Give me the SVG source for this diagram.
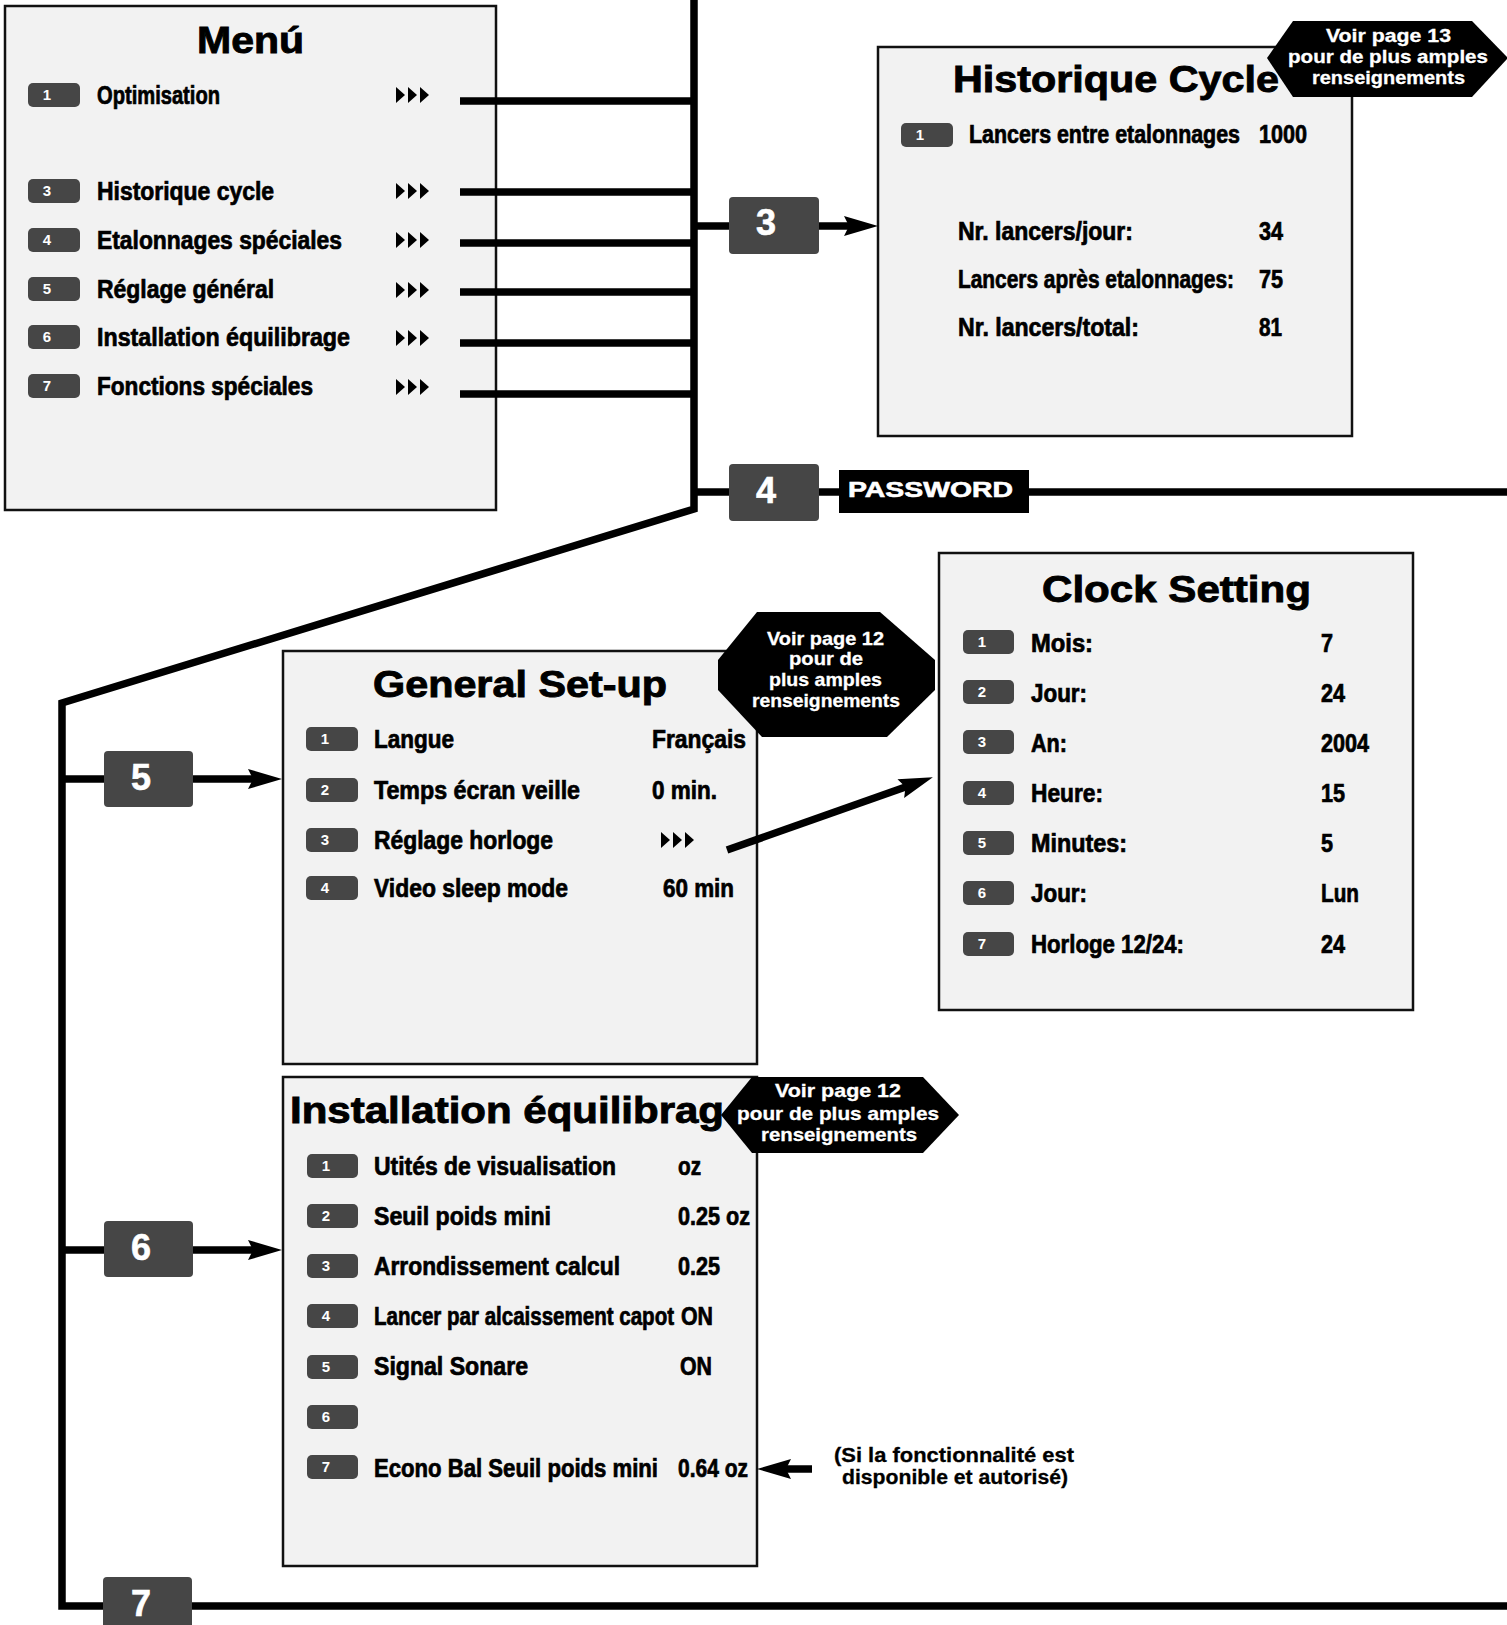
<svg xmlns="http://www.w3.org/2000/svg" xmlns:xlink="http://www.w3.org/1999/xlink" width="1507" height="1625" viewBox="0 0 1507 1625">
<style>
.box{fill:#f2f2f2;stroke:#111;stroke-width:2.5}
.b{fill:#464646}
.bn{font-family:"Liberation Sans",Arial,sans-serif;font-weight:bold;font-size:15px;fill:#fff;text-anchor:middle}
.bigt{font-family:"Liberation Sans",Arial,sans-serif;font-weight:bold;font-size:36px;fill:#fff;text-anchor:middle;stroke:#fff;stroke-width:0.6}
.t{font-family:"Liberation Sans",Arial,sans-serif;font-weight:bold;font-size:37px;fill:#000;stroke:#000;stroke-width:0.9}
.r{font-family:"Liberation Sans",Arial,sans-serif;font-weight:bold;font-size:25px;fill:#000;stroke:#000;stroke-width:0.7}
.ht{font-family:"Liberation Sans",Arial,sans-serif;font-weight:bold;font-size:18.5px;fill:#fff;stroke:#fff;stroke-width:0.3}
.nt{font-family:"Liberation Sans",Arial,sans-serif;font-weight:bold;font-size:19.5px;fill:#000;stroke:#000;stroke-width:0.3}
.pw{font-family:"Liberation Sans",Arial,sans-serif;font-weight:bold;font-size:22px;fill:#fff;stroke:#fff;stroke-width:0.6}
.c{fill:none;stroke:#000;stroke-width:7.5;stroke-linejoin:miter}
.ca{fill:none;stroke:#000;stroke-width:7.5;marker-end:url(#ah)}
</style>
<defs>
<marker id="ah" markerUnits="userSpaceOnUse" markerWidth="34" markerHeight="20" refX="14" refY="10" orient="auto" overflow="visible">
<path d="M0,0 L34,10 L0,20 L5,10 z" fill="#000"/>
</marker>
<path id="tri" d="M0,-8 L9,0 L0,8 z M12,-8 L21,0 L12,8 z M24,-8 L33,0 L24,8 z" fill="#000"/>
</defs>
<rect x="0" y="0" width="1507" height="1625" fill="#fff"/>

<g id="menu">
<rect class="box" x="5" y="6" width="491" height="504"/>
<text class="t" x="197" y="53" textLength="107" lengthAdjust="spacingAndGlyphs">Menú</text>
<rect class="b" x="28" y="83" width="52" height="24" rx="5"/><text class="bn" x="47" y="100">1</text>
<text class="r" transform="translate(97,104) scale(0.75,1)" textLength="164" lengthAdjust="spacingAndGlyphs">Optimisation</text>
<use xlink:href="#tri" x="396" y="95"/>
<rect class="b" x="28" y="179" width="52" height="24" rx="5"/><text class="bn" x="47" y="196">3</text>
<text class="r" transform="translate(97,200) scale(0.75,1)" textLength="236" lengthAdjust="spacingAndGlyphs">Historique cycle</text>
<use xlink:href="#tri" x="396" y="191"/>
<rect class="b" x="28" y="228" width="52" height="24" rx="5"/><text class="bn" x="47" y="245">4</text>
<text class="r" transform="translate(97,249) scale(0.75,1)" textLength="326.7" lengthAdjust="spacingAndGlyphs">Etalonnages spéciales</text>
<use xlink:href="#tri" x="396" y="240"/>
<rect class="b" x="28" y="277" width="52" height="24" rx="5"/><text class="bn" x="47" y="294">5</text>
<text class="r" transform="translate(97,298) scale(0.75,1)" textLength="236" lengthAdjust="spacingAndGlyphs">Réglage général</text>
<use xlink:href="#tri" x="396" y="290"/>
<rect class="b" x="28" y="325" width="52" height="24" rx="5"/><text class="bn" x="47" y="342">6</text>
<text class="r" transform="translate(97,346) scale(0.75,1)" textLength="337.3" lengthAdjust="spacingAndGlyphs">Installation équilibrage</text>
<use xlink:href="#tri" x="396" y="338"/>
<rect class="b" x="28" y="374" width="52" height="24" rx="5"/><text class="bn" x="47" y="391">7</text>
<text class="r" transform="translate(97,395) scale(0.75,1)" textLength="288" lengthAdjust="spacingAndGlyphs">Fonctions spéciales</text>
<use xlink:href="#tri" x="396" y="387"/>
</g>

<g id="historique">
<rect class="box" x="878" y="47" width="474" height="389"/>
<text class="t" x="953" y="92" textLength="326" lengthAdjust="spacingAndGlyphs">Historique Cycle</text>
<rect class="b" x="901" y="123" width="52" height="24" rx="5"/><text class="bn" x="920" y="140">1</text>
<text class="r" transform="translate(969,143) scale(0.75,1)" textLength="361.3" lengthAdjust="spacingAndGlyphs">Lancers entre etalonnages</text>
<text class="r" transform="translate(1259,143) scale(0.75,1)" textLength="64" lengthAdjust="spacingAndGlyphs">1000</text>
<text class="r" transform="translate(958,240) scale(0.75,1)" textLength="233.3" lengthAdjust="spacingAndGlyphs">Nr. lancers/jour:</text>
<text class="r" transform="translate(1259,240) scale(0.75,1)" textLength="32" lengthAdjust="spacingAndGlyphs">34</text>
<text class="r" transform="translate(958,288) scale(0.75,1)" textLength="368" lengthAdjust="spacingAndGlyphs">Lancers après etalonnages:</text>
<text class="r" transform="translate(1259,288) scale(0.75,1)" textLength="32" lengthAdjust="spacingAndGlyphs">75</text>
<text class="r" transform="translate(958,336) scale(0.75,1)" textLength="241.3" lengthAdjust="spacingAndGlyphs">Nr. lancers/total:</text>
<text class="r" transform="translate(1259,336) scale(0.75,1)" textLength="30.7" lengthAdjust="spacingAndGlyphs">81</text>
</g>

<g id="general-setup">
<rect class="box" x="283" y="651" width="474" height="413"/>
<text class="t" x="373" y="697" textLength="294" lengthAdjust="spacingAndGlyphs">General Set-up</text>
<rect class="b" x="306" y="727" width="52" height="24" rx="5"/><text class="bn" x="325" y="744">1</text>
<text class="r" transform="translate(374,748) scale(0.75,1)" textLength="106.7" lengthAdjust="spacingAndGlyphs">Langue</text>
<text class="r" transform="translate(652,748) scale(0.75,1)" textLength="125.3" lengthAdjust="spacingAndGlyphs">Français</text>
<rect class="b" x="306" y="778" width="52" height="24" rx="5"/><text class="bn" x="325" y="795">2</text>
<text class="r" transform="translate(374,799) scale(0.75,1)" textLength="274.7" lengthAdjust="spacingAndGlyphs">Temps écran veille</text>
<text class="r" transform="translate(652,799) scale(0.75,1)" textLength="86.7" lengthAdjust="spacingAndGlyphs">0 min.</text>
<rect class="b" x="306" y="828" width="52" height="24" rx="5"/><text class="bn" x="325" y="845">3</text>
<text class="r" transform="translate(374,849) scale(0.75,1)" textLength="238.7" lengthAdjust="spacingAndGlyphs">Réglage horloge</text>
<use xlink:href="#tri" x="661" y="840"/>
<rect class="b" x="306" y="876" width="52" height="24" rx="5"/><text class="bn" x="325" y="893">4</text>
<text class="r" transform="translate(374,897) scale(0.75,1)" textLength="258.7" lengthAdjust="spacingAndGlyphs">Video sleep mode</text>
<text class="r" transform="translate(663,897) scale(0.75,1)" textLength="94.7" lengthAdjust="spacingAndGlyphs">60 min</text>
</g>

<g id="clock-setting">
<rect class="box" x="939" y="553" width="474" height="457"/>
<text class="t" x="1042" y="602" textLength="269" lengthAdjust="spacingAndGlyphs">Clock Setting</text>
<rect class="b" x="963" y="630" width="51" height="24" rx="5"/><text class="bn" x="982" y="647">1</text>
<text class="r" transform="translate(1031,652) scale(0.75,1)" textLength="82.7" lengthAdjust="spacingAndGlyphs">Mois:</text>
<text class="r" transform="translate(1321,652) scale(0.75,1)" textLength="16" lengthAdjust="spacingAndGlyphs">7</text>
<rect class="b" x="963" y="680" width="51" height="24" rx="5"/><text class="bn" x="982" y="697">2</text>
<text class="r" transform="translate(1031,702) scale(0.75,1)" textLength="74.7" lengthAdjust="spacingAndGlyphs">Jour:</text>
<text class="r" transform="translate(1321,702) scale(0.75,1)" textLength="32" lengthAdjust="spacingAndGlyphs">24</text>
<rect class="b" x="963" y="730" width="51" height="24" rx="5"/><text class="bn" x="982" y="747">3</text>
<text class="r" transform="translate(1031,752) scale(0.75,1)" textLength="48" lengthAdjust="spacingAndGlyphs">An:</text>
<text class="r" transform="translate(1321,752) scale(0.75,1)" textLength="64" lengthAdjust="spacingAndGlyphs">2004</text>
<rect class="b" x="963" y="781" width="51" height="24" rx="5"/><text class="bn" x="982" y="798">4</text>
<text class="r" transform="translate(1031,802) scale(0.75,1)" textLength="96" lengthAdjust="spacingAndGlyphs">Heure:</text>
<text class="r" transform="translate(1321,802) scale(0.75,1)" textLength="32" lengthAdjust="spacingAndGlyphs">15</text>
<rect class="b" x="963" y="831" width="51" height="24" rx="5"/><text class="bn" x="982" y="848">5</text>
<text class="r" transform="translate(1031,852) scale(0.75,1)" textLength="128" lengthAdjust="spacingAndGlyphs">Minutes:</text>
<text class="r" transform="translate(1321,852) scale(0.75,1)" textLength="16" lengthAdjust="spacingAndGlyphs">5</text>
<rect class="b" x="963" y="881" width="51" height="24" rx="5"/><text class="bn" x="982" y="898">6</text>
<text class="r" transform="translate(1031,902) scale(0.75,1)" textLength="74.7" lengthAdjust="spacingAndGlyphs">Jour:</text>
<text class="r" transform="translate(1321,902) scale(0.75,1)" textLength="50.7" lengthAdjust="spacingAndGlyphs">Lun</text>
<rect class="b" x="963" y="932" width="51" height="24" rx="5"/><text class="bn" x="982" y="949">7</text>
<text class="r" transform="translate(1031,953) scale(0.75,1)" textLength="204" lengthAdjust="spacingAndGlyphs">Horloge 12/24:</text>
<text class="r" transform="translate(1321,953) scale(0.75,1)" textLength="32" lengthAdjust="spacingAndGlyphs">24</text>
</g>

<g id="installation">
<rect class="box" x="283" y="1077" width="474" height="489"/>
<text class="t" x="290" y="1123" textLength="434" lengthAdjust="spacingAndGlyphs">Installation équilibrag</text>
<rect class="b" x="307" y="1154" width="51" height="24" rx="5"/><text class="bn" x="326" y="1171">1</text>
<text class="r" transform="translate(374,1175) scale(0.75,1)" textLength="322.7" lengthAdjust="spacingAndGlyphs">Utités de visualisation</text>
<text class="r" transform="translate(678,1175) scale(0.75,1)" textLength="30.7" lengthAdjust="spacingAndGlyphs">oz</text>
<rect class="b" x="307" y="1204" width="51" height="24" rx="5"/><text class="bn" x="326" y="1221">2</text>
<text class="r" transform="translate(374,1225) scale(0.75,1)" textLength="236" lengthAdjust="spacingAndGlyphs">Seuil poids mini</text>
<text class="r" transform="translate(678,1225) scale(0.75,1)" textLength="96" lengthAdjust="spacingAndGlyphs">0.25 oz</text>
<rect class="b" x="307" y="1254" width="51" height="24" rx="5"/><text class="bn" x="326" y="1271">3</text>
<text class="r" transform="translate(374,1275) scale(0.75,1)" textLength="328" lengthAdjust="spacingAndGlyphs">Arrondissement calcul</text>
<text class="r" transform="translate(678,1275) scale(0.75,1)" textLength="56" lengthAdjust="spacingAndGlyphs">0.25</text>
<rect class="b" x="307" y="1304" width="51" height="24" rx="5"/><text class="bn" x="326" y="1321">4</text>
<text class="r" transform="translate(374,1325) scale(0.75,1)" textLength="400" lengthAdjust="spacingAndGlyphs">Lancer par alcaissement capot</text>
<text class="r" transform="translate(681,1325) scale(0.75,1)" textLength="42.7" lengthAdjust="spacingAndGlyphs">ON</text>
<rect class="b" x="307" y="1355" width="51" height="24" rx="5"/><text class="bn" x="326" y="1372">5</text>
<text class="r" transform="translate(374,1375) scale(0.75,1)" textLength="205.3" lengthAdjust="spacingAndGlyphs">Signal Sonare</text>
<text class="r" transform="translate(680,1375) scale(0.75,1)" textLength="42.7" lengthAdjust="spacingAndGlyphs">ON</text>
<rect class="b" x="307" y="1405" width="51" height="24" rx="5"/><text class="bn" x="326" y="1422">6</text>
<rect class="b" x="307" y="1455" width="51" height="24" rx="5"/><text class="bn" x="326" y="1472">7</text>
<text class="r" transform="translate(374,1477) scale(0.75,1)" textLength="378.7" lengthAdjust="spacingAndGlyphs">Econo Bal Seuil poids mini</text>
<text class="r" transform="translate(678,1477) scale(0.75,1)" textLength="93.3" lengthAdjust="spacingAndGlyphs">0.64 oz</text>
</g>

<g id="connectors">
<path class="c" d="M694,0 V509 L62,703 V1606 H1507"/>
<path class="c" d="M460,101 H694 M460,192 H694 M460,243 H694 M460,292 H694 M460,343 H694 M460,394 H694"/>
<path class="ca" d="M694,226 H858"/>
<path class="c" d="M694,492 H1507"/>
<path class="ca" d="M62,779 H262"/>
<path class="ca" d="M62,1250 H262"/>
<path class="ca" d="M727,850 L914,784"/>
<path class="ca" d="M812,1469 H777"/>
</g>

<g id="badge-3"><rect class="b" x="729" y="197" width="90" height="57" rx="4"/><text class="bigt" x="766" y="235">3</text></g>
<g id="badge-4"><rect class="b" x="729" y="464" width="90" height="57" rx="4"/><text class="bigt" x="766" y="503">4</text></g>
<g id="password"><rect x="839" y="470" width="190" height="43" fill="#000"/><text class="pw" x="848" y="497" textLength="165" lengthAdjust="spacingAndGlyphs">PASSWORD</text></g>
<g id="badge-5"><rect class="b" x="104" y="751" width="89" height="56" rx="4"/><text class="bigt" x="141" y="790">5</text></g>
<g id="badge-6"><rect class="b" x="104" y="1221" width="89" height="56" rx="4"/><text class="bigt" x="141" y="1260">6</text></g>
<g id="badge-7"><rect class="b" x="103" y="1577" width="89" height="60" rx="4"/><text class="bigt" x="141" y="1616">7</text></g>

<g id="callout-historique">
<polygon points="1267,58 1293,21 1472,21 1508,58 1472,97 1293,97" fill="#000"/>
<text class="ht" x="1326" y="42" textLength="125" lengthAdjust="spacingAndGlyphs">Voir page 13</text>
<text class="ht" x="1288" y="63" textLength="200" lengthAdjust="spacingAndGlyphs">pour de plus amples</text>
<text class="ht" x="1312" y="84" textLength="153" lengthAdjust="spacingAndGlyphs">renseignements</text>
</g>

<g id="callout-general">
<polygon points="757,612 880,612 935,660 935,690 887,737 762,737 718,690 718,660" fill="#000"/>
<text class="ht" x="767" y="645" textLength="117" lengthAdjust="spacingAndGlyphs">Voir page 12</text>
<text class="ht" x="789" y="665" textLength="74" lengthAdjust="spacingAndGlyphs">pour de</text>
<text class="ht" x="769" y="686" textLength="113" lengthAdjust="spacingAndGlyphs">plus amples</text>
<text class="ht" x="752" y="707" textLength="148" lengthAdjust="spacingAndGlyphs">renseignements</text>
</g>

<g id="callout-installation">
<polygon points="721,1115 752,1077 923,1077 959,1115 923,1153 752,1153" fill="#000"/>
<text class="ht" x="775" y="1097" textLength="126" lengthAdjust="spacingAndGlyphs">Voir page 12</text>
<text class="ht" x="737" y="1120" textLength="202" lengthAdjust="spacingAndGlyphs">pour de plus amples</text>
<text class="ht" x="761" y="1141" textLength="156" lengthAdjust="spacingAndGlyphs">renseignements</text>
</g>

<g id="note">
<text class="nt" x="834" y="1462" textLength="240" lengthAdjust="spacingAndGlyphs">(Si la fonctionnalité est</text>
<text class="nt" x="842" y="1484" textLength="226" lengthAdjust="spacingAndGlyphs">disponible et autorisé)</text>
</g>
</svg>
